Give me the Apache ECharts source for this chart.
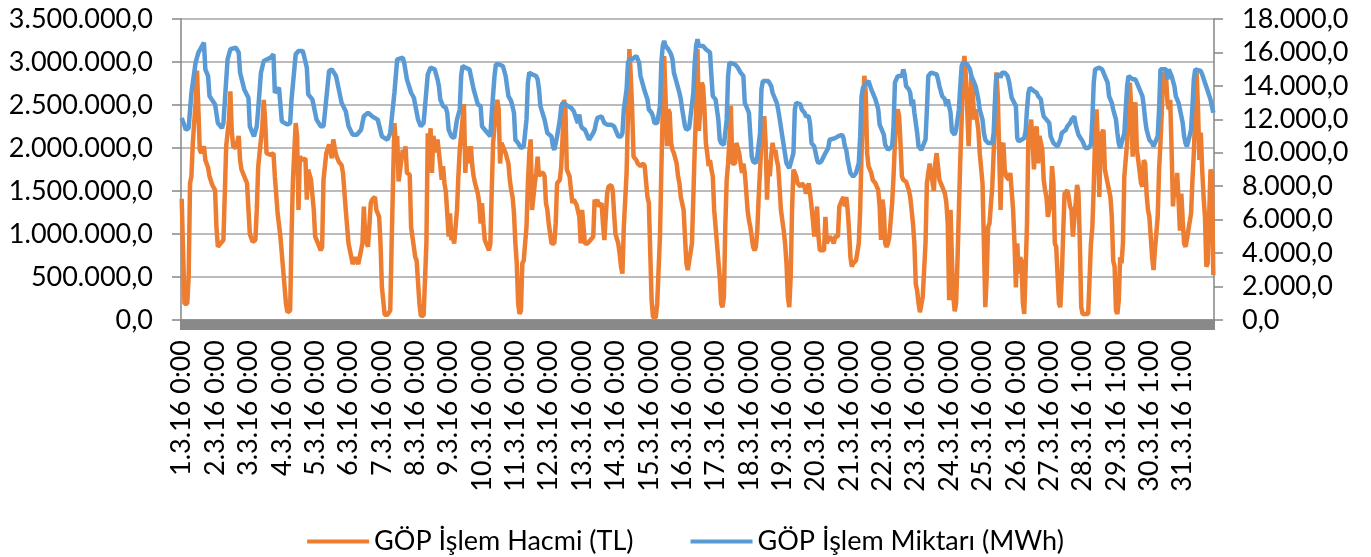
<!DOCTYPE html>
<html>
<head>
<meta charset="utf-8">
<script src="https://cdn.jsdelivr.net/npm/echarts@6/dist/echarts.min.js"></script>
<style>
html,body{margin:0;padding:0;background:#fff;}
#chart{width:1371px;height:557px;}
</style>
</head>
<body>
<div id="chart"></div>
<script>
// Hourly categories for March 2016 (DST change on 27.3 -> 743 hours)
const hourCount = 743;
const dayLabels = ['1.3.16 0:00','2.3.16 0:00','3.3.16 0:00','4.3.16 0:00','5.3.16 0:00','6.3.16 0:00','7.3.16 0:00','8.3.16 0:00','9.3.16 0:00','10.3.16 0:00','11.3.16 0:00','12.3.16 0:00','13.3.16 0:00','14.3.16 0:00','15.3.16 0:00','16.3.16 0:00','17.3.16 0:00','18.3.16 0:00','19.3.16 0:00','20.3.16 0:00','21.3.16 0:00','22.3.16 0:00','23.3.16 0:00','24.3.16 0:00','25.3.16 0:00','26.3.16 0:00','27.3.16 0:00','28.3.16 1:00','29.3.16 1:00','30.3.16 1:00','31.3.16 1:00'];
const leftTicks = [0,500000,1000000,1500000,2000000,2500000,3000000,3500000];
const rightTicks = [0,2000,4000,6000,8000,10000,12000,14000,16000,18000];
const seriesNames = ['GÖP İşlem Hacmi (TL)','GÖP İşlem Miktarı (MWh)'];

// [hour index, value] readings, TL
const hacmiPoints = [[0,1410000],[2,190000],[4,190000],[5,500000],[6,1590000],[7,1670000],[8,2060000],[10,2530000],[11,2900000],[12,2450000],[13,1980000],[14,1940000],[16,2020000],[17,1860000],[19,1770000],[20,1670000],[22,1570000],[24,1510000],[25,1080000],[26,850000],[28,890000],[30,930000],[31,1470000],[32,2020000],[34,2330000],[35,2660000],[36,2200000],[37,2020000],[39,2000000],[40,2000000],[41,2140000],[42,1860000],[43,1750000],[46,1630000],[47,1590000],[49,1000000],[51,910000],[53,930000],[54,1280000],[55,1780000],[56,1940000],[58,2250000],[59,2560000],[60,2330000],[61,1940000],[64,1920000],[66,1940000],[67,1670000],[69,1240000],[71,970000],[73,580000],[75,190000],[76,90000],[78,110000],[79,970000],[80,1630000],[82,2290000],[83,2140000],[84,1280000],[85,1900000],[87,1860000],[89,1880000],[90,1400000],[91,1750000],[93,1630000],[95,1280000],[96,970000],[98,890000],[100,810000],[101,850000],[102,1630000],[104,1940000],[106,2040000],[108,1880000],[109,2100000],[111,1920000],[113,1840000],[115,1800000],[116,1710000],[118,1280000],[120,890000],[123,650000],[125,730000],[127,650000],[130,890000],[131,1320000],[132,970000],[134,850000],[136,1360000],[137,1400000],[139,1430000],[140,1280000],[142,1200000],[143,890000],[144,380000],[146,60000],[148,60000],[150,110000],[151,890000],[153,2290000],[154,2060000],[155,2140000],[156,1610000],[157,1590000],[159,1980000],[160,1900000],[161,2020000],[162,1710000],[164,1690000],[165,1080000],[168,730000],[169,690000],[171,190000],[172,50000],[174,50000],[176,890000],[177,2170000],[178,1860000],[179,2230000],[180,1710000],[181,2140000],[183,1950000],[184,2100000],[185,2100000],[186,1800000],[187,1630000],[188,1790000],[189,1590000],[190,1490000],[191,1240000],[192,970000],[193,1240000],[194,930000],[195,970000],[196,890000],[197,870000],[198,1280000],[199,1670000],[200,1980000],[202,2330000],[203,2510000],[204,1710000],[205,2020000],[207,1820000],[208,2020000],[209,1790000],[210,1670000],[211,1590000],[213,1470000],[214,1360000],[215,1120000],[216,1360000],[217,1120000],[218,930000],[220,850000],[221,810000],[222,890000],[223,1510000],[224,2060000],[226,2450000],[227,2560000],[228,2450000],[229,1820000],[230,2060000],[231,2020000],[233,1940000],[235,1820000],[236,1630000],[237,1510000],[238,1430000],[239,1240000],[240,890000],[241,660000],[242,190000],[243,70000],[244,110000],[245,660000],[246,690000],[247,890000],[248,1080000],[249,1590000],[250,1940000],[251,2100000],[252,1280000],[254,1590000],[255,1710000],[256,1900000],[257,1670000],[258,1710000],[260,1710000],[261,1670000],[262,1360000],[263,1280000],[264,1120000],[266,890000],[267,870000],[268,890000],[269,1120000],[270,1590000],[272,1630000],[273,1790000],[274,2140000],[275,2560000],[276,2450000],[277,1750000],[278,1750000],[279,1670000],[280,1510000],[281,1360000],[282,1400000],[284,1340000],[285,1320000],[286,1200000],[287,890000],[288,1280000],[289,1280000],[290,890000],[291,870000],[292,890000],[294,930000],[296,970000],[297,1400000],[298,1360000],[299,1400000],[300,1320000],[302,1360000],[303,1120000],[304,930000],[305,1200000],[306,1470000],[307,1550000],[309,1570000],[310,1510000],[311,1240000],[312,1000000],[314,890000],[315,770000],[316,620000],[317,540000],[318,1080000],[320,1710000],[321,2410000],[322,3150000],[323,2840000],[324,2450000],[325,1900000],[327,1860000],[328,1820000],[329,1820000],[330,1790000],[332,1820000],[333,1790000],[334,1790000],[335,1430000],[336,1360000],[338,230000],[339,30000],[340,10000],[341,30000],[342,190000],[344,970000],[345,1750000],[346,2450000],[347,3070000],[348,2600000],[349,2020000],[350,2450000],[351,2410000],[352,2060000],[353,1980000],[354,1940000],[356,1820000],[357,1670000],[358,1590000],[359,1430000],[361,1280000],[362,970000],[363,660000],[364,580000],[365,580000],[367,890000],[368,1430000],[369,1980000],[370,2450000],[371,3150000],[372,2200000],[373,2450000],[374,2760000],[375,2720000],[376,2450000],[377,2060000],[378,1940000],[379,1790000],[380,1860000],[381,1750000],[382,1670000],[383,1280000],[385,890000],[386,690000],[387,500000],[388,190000],[389,150000],[390,270000],[391,1100000],[392,1630000],[393,1820000],[394,2100000],[395,2490000],[396,1820000],[398,1820000],[399,2060000],[400,2000000],[401,1940000],[402,1820000],[403,1710000],[404,1820000],[405,1710000],[406,1510000],[407,1280000],[408,1160000],[409,1080000],[411,850000],[412,810000],[413,850000],[414,1040000],[415,1430000],[416,1750000],[417,2060000],[418,2210000],[419,2370000],[420,2060000],[421,1400000],[422,1860000],[423,1670000],[424,1900000],[425,2060000],[426,1940000],[427,1980000],[428,1860000],[429,1790000],[430,1550000],[431,1280000],[433,1040000],[434,890000],[435,660000],[436,270000],[437,150000],[438,500000],[439,1280000],[440,1750000],[441,1710000],[442,1670000],[443,1590000],[445,1550000],[446,1590000],[447,1570000],[448,1550000],[449,1470000],[451,1590000],[452,1470000],[453,1320000],[454,1160000],[455,970000],[457,1320000],[458,970000],[459,810000],[460,790000],[462,810000],[463,1200000],[464,890000],[465,890000],[466,970000],[467,970000],[468,930000],[469,890000],[470,970000],[472,970000],[473,1320000],[474,1360000],[475,1400000],[476,1430000],[477,1320000],[478,1430000],[479,1280000],[480,1040000],[481,730000],[482,620000],[483,660000],[484,660000],[485,690000],[487,890000],[488,1280000],[489,1940000],[490,2450000],[491,2840000],[492,2640000],[493,1940000],[494,1790000],[495,1790000],[496,1710000],[497,1630000],[499,1590000],[500,1550000],[501,1510000],[502,1320000],[503,930000],[504,1400000],[505,1280000],[506,890000],[507,850000],[508,890000],[509,970000],[511,1360000],[512,1670000],[513,2060000],[514,2330000],[515,2450000],[516,2370000],[517,2060000],[518,1670000],[519,1630000],[520,1650000],[521,1610000],[523,1510000],[524,1430000],[525,1280000],[526,1120000],[527,890000],[528,420000],[529,340000],[530,190000],[531,90000],[532,70000],[533,270000],[535,890000],[536,1590000],[537,1710000],[538,1820000],[539,1840000],[541,1500000],[542,1820000],[543,1940000],[544,1940000],[545,1630000],[547,1550000],[548,1510000],[549,1470000],[550,1360000],[551,1120000],[552,230000],[553,1280000],[554,700000],[555,270000],[556,100000],[557,190000],[558,690000],[559,1280000],[560,1860000],[561,2330000],[562,2920000],[563,3070000],[564,2840000],[565,2450000],[566,2020000],[567,2450000],[568,2840000],[569,2640000],[570,2330000],[571,2450000],[572,2330000],[573,2210000],[574,1940000],[576,1590000],[577,890000],[578,150000],[579,500000],[580,1080000],[581,1120000],[583,1550000],[584,1940000],[585,2450000],[586,2880000],[587,2600000],[589,1280000],[590,2020000],[591,2060000],[592,1750000],[593,1670000],[595,1630000],[596,1710000],[597,1710000],[598,1280000],[599,890000],[600,380000],[601,890000],[602,540000],[603,730000],[604,690000],[605,200000],[606,70000],[607,580000],[608,1120000],[609,2140000],[610,2210000],[611,2330000],[612,2060000],[613,1750000],[614,2210000],[615,2250000],[616,1820000],[617,2140000],[619,1980000],[620,1630000],[621,1510000],[622,1430000],[623,1200000],[625,1360000],[626,1790000],[627,1590000],[628,890000],[629,850000],[631,190000],[632,150000],[633,500000],[634,1000000],[635,1470000],[637,1510000],[638,1430000],[639,1320000],[640,1280000],[641,970000],[643,1360000],[644,1570000],[645,1490000],[646,890000],[647,150000],[648,70000],[650,70000],[651,50000],[652,70000],[654,890000],[655,1080000],[656,1550000],[657,2140000],[658,2450000],[659,2060000],[660,1430000],[661,2100000],[662,2180000],[663,2210000],[664,1750000],[666,1590000],[668,1430000],[669,1200000],[670,690000],[671,620000],[672,110000],[673,70000],[674,230000],[675,730000],[676,660000],[677,890000],[678,1670000],[680,2060000],[681,2450000],[682,2760000],[683,2450000],[684,1900000],[685,2450000],[686,2530000],[687,1980000],[688,1860000],[690,1590000],[691,1550000],[692,1860000],[693,1820000],[694,1470000],[695,1280000],[696,1200000],[697,970000],[698,730000],[699,580000],[700,810000],[702,1200000],[703,1750000],[704,2060000],[705,2450000],[706,2880000],[708,2840000],[709,2530000],[710,2450000],[711,2560000],[712,1980000],[713,1320000],[714,1590000],[715,1430000],[716,1710000],[717,1400000],[718,1040000],[719,1470000],[720,1160000],[721,890000],[722,850000],[723,930000],[724,1040000],[726,1240000],[727,1630000],[728,1940000],[729,2450000],[730,2880000],[731,2450000],[732,1860000],[733,2180000],[734,1750000],[735,1430000],[736,1200000],[737,620000],[738,660000],[740,1750000],[741,1710000],[742,520000]];

// [hour index, value] readings, MWh
const miktarPoints = [[0,12080],[3,11380],[5,11480],[7,13590],[10,15390],[12,15990],[14,16290],[16,16590],[17,14990],[19,14590],[20,13390],[24,12890],[26,11780],[29,11480],[30,11780],[33,15590],[35,16190],[39,16290],[41,15990],[42,14790],[45,13790],[48,13290],[49,11580],[52,10980],[54,11580],[55,12590],[57,14790],[59,15490],[64,15690],[66,15890],[67,13590],[70,13890],[72,11880],[76,11680],[78,11780],[79,13190],[82,15890],[84,16090],[87,16090],[88,15790],[90,15090],[91,13490],[94,13190],[97,11980],[100,11580],[102,11580],[103,12390],[106,14890],[108,14990],[111,14590],[113,13790],[115,12990],[118,12490],[120,11580],[123,11080],[126,11080],[129,11380],[131,12180],[134,12390],[137,12180],[141,11980],[144,10980],[148,10780],[150,11180],[153,13590],[155,15590],[159,15690],[160,15390],[162,14390],[165,13590],[167,13290],[170,11980],[172,11580],[174,11780],[177,14690],[179,15090],[182,14990],[184,14390],[185,13990],[186,13190],[188,12790],[190,12690],[191,12390],[192,11380],[194,10980],[196,10880],[197,10980],[198,11980],[200,12590],[201,14590],[202,15190],[204,15090],[207,14990],[208,14590],[210,13790],[212,13190],[213,12890],[215,12790],[216,11580],[218,11380],[220,11180],[222,10980],[223,12390],[225,14590],[226,15290],[228,15290],[231,15190],[232,14890],[233,14590],[235,13390],[237,13090],[238,13090],[239,12390],[240,10780],[242,10580],[244,10280],[245,10180],[246,10380],[248,11980],[249,14190],[250,14790],[252,14690],[255,14590],[256,14390],[257,13790],[258,12790],[261,11980],[262,11580],[263,11180],[266,10980],[267,10380],[268,10180],[269,10180],[270,10980],[272,11980],[273,12790],[274,12990],[275,13090],[276,12890],[278,12790],[280,12690],[281,12590],[282,12490],[284,11980],[285,11780],[286,12290],[287,11680],[288,11480],[290,11380],[291,11180],[292,10980],[293,10780],[294,10780],[296,11180],[297,11380],[298,11780],[299,12090],[300,12180],[302,12180],[303,11980],[304,11780],[306,11680],[309,11680],[311,11580],[312,11480],[314,10980],[316,10980],[317,11180],[318,12590],[320,13790],[321,15390],[322,15590],[324,15590],[327,15790],[328,15790],[329,15390],[330,14590],[332,13990],[333,13690],[334,13690],[335,13190],[336,12590],[338,12390],[339,12180],[340,11780],[341,11680],[342,11780],[344,12790],[345,15390],[346,16390],[347,16690],[348,16390],[350,16190],[351,16090],[352,15890],[353,15590],[354,14790],[356,14190],[357,13890],[358,13590],[359,13190],[360,12590],[362,11580],[363,11380],[364,11280],[365,11480],[366,12180],[368,13590],[369,15390],[370,16390],[371,16790],[372,16390],[375,16390],[377,16190],[380,15990],[381,14590],[382,13390],[384,13190],[386,11980],[387,10780],[388,10580],[390,10480],[392,11980],[393,14590],[394,15390],[395,15490],[398,15290],[400,15090],[402,14790],[404,14590],[405,12990],[407,12590],[408,12390],[410,9780],[411,9480],[413,9380],[414,9780],[416,11180],[417,13790],[418,14290],[422,14290],[424,13990],[425,13590],[428,12990],[429,12590],[430,12080],[431,11980],[432,10980],[435,9380],[437,9080],[438,9180],[440,9980],[441,12590],[442,12990],[445,12890],[446,12590],[448,12390],[449,12180],[451,12180],[452,11680],[453,10580],[455,10380],[457,9580],[458,9380],[460,9480],[463,9980],[465,10280],[466,10780],[467,10880],[470,10880],[472,10980],[473,10880],[475,11080],[476,10880],[477,10380],[478,10180],[479,9580],[481,8780],[483,8580],[485,8780],[487,9380],[488,10980],[489,13390],[490,13890],[491,13990],[494,14290],[495,14190],[496,13790],[499,13190],[501,12590],[502,11680],[503,11580],[505,11080],[506,10480],[508,10180],[511,10380],[512,11580],[513,14190],[515,14590],[518,14590],[519,14990],[520,14690],[521,13990],[523,13790],[524,13590],[525,12790],[526,13190],[527,12390],[529,11180],[530,10380],[532,10180],[535,10780],[536,12590],[537,14590],[539,14790],[543,14690],[544,14390],[545,13990],[547,13390],[549,13190],[550,12790],[551,13190],[553,12390],[554,11280],[556,11080],[557,11380],[559,12590],[560,13990],[561,15190],[562,15390],[565,15290],[567,14990],[568,14590],[570,14190],[571,13990],[572,13590],[573,13190],[574,12590],[576,11980],[577,11180],[578,10780],[580,10580],[583,10580],[584,11180],[585,13190],[586,14590],[588,14690],[589,14490],[590,14790],[591,14890],[592,14790],[594,14590],[595,14290],[596,13790],[597,13290],[598,13190],[600,12790],[601,10880],[602,10680],[604,10780],[606,10880],[607,11280],[608,12590],[609,13590],[610,13890],[613,13690],[615,13590],[616,13390],[618,13190],[619,12590],[620,12180],[622,11980],[624,11780],[625,10980],[626,10780],[627,10580],[630,10380],[631,10580],[632,10780],[633,11180],[636,11380],[637,11580],[639,11780],[640,11980],[642,12180],[643,11680],[644,11380],[645,11080],[648,10680],[649,10480],[650,10280],[652,10280],[654,10480],[655,11980],[656,14190],[657,14990],[660,15090],[662,14990],[663,14790],[664,14590],[666,14190],[667,13390],[669,12990],[670,12590],[672,11980],[673,11180],[674,10580],[675,10280],[676,10380],[678,11180],[679,12590],[680,13990],[681,14590],[682,14690],[684,14390],[685,14490],[686,14390],[688,13990],[690,13590],[691,13390],[692,12790],[693,11980],[694,11380],[696,10780],[698,10580],[699,10380],[700,10480],[702,10980],[703,12590],[704,14990],[705,15090],[708,14990],[709,14390],[710,14990],[711,14890],[712,14590],[714,13990],[715,13390],[717,12990],[718,12590],[720,11780],[721,10980],[722,10580],[723,10380],[724,10680],[726,11380],[727,12790],[728,14390],[729,14990],[730,15030],[733,14890],[734,14690],[736,14190],[738,13690],[739,13590],[740,13190],[741,13190],[742,12390]];

function toSeries(points){
  const arr = new Array(hourCount).fill(null);
  points.forEach(function(p){ arr[p[0]] = p[1]; });
  return arr;
}
const categories = [];
for (let i = 0; i < hourCount; i++) categories.push(i % 24 === 0 ? dayLabels[i / 24] : '');

function trFormat(v){
  return String(Math.round(v)).replace(/\B(?=(\d{3})+(?!\d))/g, '.') + ',0';
}

const FONT = 'Lato';
const chart = echarts.init(document.getElementById('chart'), null, {renderer: 'canvas'});
chart.setOption({
  animation: false,
  backgroundColor: '#ffffff',
  grid: {left: 181, right: 157, top: 19, bottom: 237, containLabel: false},
  legend: {
    data: seriesNames,
    top: 523,
    left: 'center',
    icon: 'rect',
    itemWidth: 62,
    itemHeight: 4,
    itemGap: 57,
    textStyle: {fontFamily: FONT, fontSize: 27, color: '#000'}
  },
  xAxis: {
    type: 'category',
    data: categories,
    boundaryGap: true,
    axisLine: {show: true, lineStyle: {color: '#868686', width: 1.5}},
    axisTick: {show: true, interval: 0, length: 10, lineStyle: {color: '#898989', width: 2}},
    axisLabel: {interval: 23, rotate: 90, margin: 20, fontFamily: FONT, fontSize: 27, color: '#000'},
    splitLine: {show: false}
  },
  yAxis: [
    {
      type: 'value', min: leftTicks[0], max: leftTicks[leftTicks.length - 1], interval: leftTicks[1] - leftTicks[0],
      axisLine: {show: true, lineStyle: {color: '#868686', width: 1.5}},
      axisTick: {show: true, length: 9, lineStyle: {color: '#868686', width: 1.5}},
      axisLabel: {margin: 28, fontFamily: FONT, fontSize: 27, color: '#000', formatter: trFormat},
      splitLine: {show: true, lineStyle: {color: '#a6a6a6', width: 1.5}}
    },
    {
      type: 'value', min: rightTicks[0], max: rightTicks[rightTicks.length - 1], interval: rightTicks[1] - rightTicks[0],
      position: 'right',
      axisLine: {show: true, lineStyle: {color: '#868686', width: 1.5}},
      axisTick: {show: true, length: 9, lineStyle: {color: '#868686', width: 1.5}},
      axisLabel: {margin: 28, fontFamily: FONT, fontSize: 27, color: '#000', formatter: trFormat},
      splitLine: {show: false}
    }
  ],
  series: [
    {
      name: seriesNames[0], type: 'line', yAxisIndex: 0,
      data: toSeries(hacmiPoints), connectNulls: true,
      showSymbol: false, symbol: 'none',
      lineStyle: {color: '#ED7D31', width: 4.5},
      itemStyle: {color: '#ED7D31'}
    },
    {
      name: seriesNames[1], type: 'line', yAxisIndex: 1,
      data: toSeries(miktarPoints), connectNulls: true,
      showSymbol: false, symbol: 'none',
      lineStyle: {color: '#5B9BD5', width: 4.5},
      itemStyle: {color: '#5B9BD5'}
    }
  ]
});
</script>
</body>
</html>
